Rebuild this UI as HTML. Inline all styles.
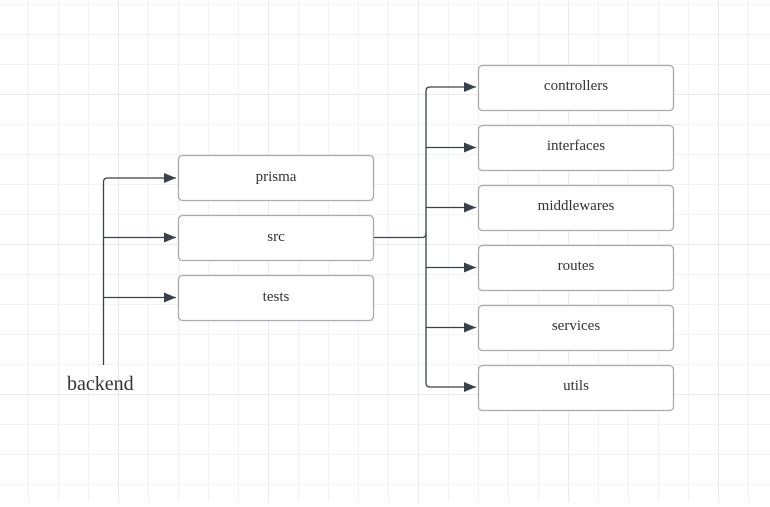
<!DOCTYPE html>
<html><head><style>
body{margin:0;width:770px;height:502px;overflow:hidden;background:#fff}
</style></head><body>
<svg width="770" height="502" xmlns="http://www.w3.org/2000/svg" font-family="Liberation Serif, serif">
<defs>
<pattern id="g" x="-2" y="4" width="30" height="30" patternUnits="userSpaceOnUse">
<path d="M0 0H30M0 0V30" stroke="#e6e6e6" stroke-width="1" fill="none"/>
</pattern>
<pattern id="G" x="118" y="94" width="150" height="150" patternUnits="userSpaceOnUse">
<path d="M0 0H150M0 0V150" stroke="#d6d6d6" stroke-width="1" fill="none"/>
</pattern>
<marker id="a" markerWidth="12" markerHeight="10" refX="12" refY="5" orient="auto" markerUnits="userSpaceOnUse">
<path d="M0 0L12 5L0 10z" fill="#3a414a"/>
</marker>
</defs>
<rect width="770" height="502" fill="url(#g)"/>
<rect width="770" height="502" fill="url(#G)"/>
<g stroke="#3a414a" stroke-width="1.3" fill="none">
<path d="M103.5 365V182q0-4 4-4H176" marker-end="url(#a)"/>
<path d="M103.5 237.5H176" marker-end="url(#a)"/>
<path d="M103.5 297.5H176" marker-end="url(#a)"/>
<path d="M373 237.5H422q4 0 4-4V91q0-4 4-4H476" marker-end="url(#a)"/>
<path d="M426 233V383q0 4 4 4H476" marker-end="url(#a)"/>
<path d="M426 147.5H476" marker-end="url(#a)"/>
<path d="M426 207.5H476" marker-end="url(#a)"/>
<path d="M426 267.5H476" marker-end="url(#a)"/>
<path d="M426 327.5H476" marker-end="url(#a)"/>
</g>
<g fill="#fff" stroke="#a8abb2" stroke-width="1.3">
<rect x="178.5" y="155.5" width="195" height="45" rx="4"/>
<rect x="178.5" y="215.5" width="195" height="45" rx="4"/>
<rect x="178.5" y="275.5" width="195" height="45" rx="4"/>
<rect x="478.5" y="65.5" width="195" height="45" rx="4"/>
<rect x="478.5" y="125.5" width="195" height="45" rx="4"/>
<rect x="478.5" y="185.5" width="195" height="45" rx="4"/>
<rect x="478.5" y="245.5" width="195" height="45" rx="4"/>
<rect x="478.5" y="305.5" width="195" height="45" rx="4"/>
<rect x="478.5" y="365.5" width="195" height="45" rx="4"/>
</g>
<g fill="#333" font-size="15" text-anchor="middle">
<text x="276" y="181">prisma</text>
<text x="276" y="241">src</text>
<text x="276" y="301">tests</text>
<text x="576" y="90">controllers</text>
<text x="576" y="150">interfaces</text>
<text x="576" y="210">middlewares</text>
<text x="576" y="270">routes</text>
<text x="576" y="330">services</text>
<text x="576" y="390">utils</text>
</g>
<text x="67" y="390" font-size="20" fill="#333">backend</text>
</svg>
</body></html>
